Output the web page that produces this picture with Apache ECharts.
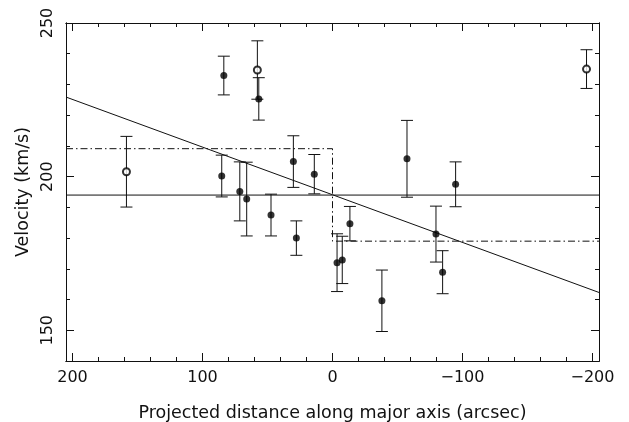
<!DOCTYPE html>
<html>
<head>
<meta charset="utf-8">
<script src="https://cdn.jsdelivr.net/npm/echarts@6/dist/echarts.min.js"></script>
<style>html,body{margin:0;padding:0;background:#fff}#c{width:629px;height:422px}</style>
</head>
<body>
<div id="c"></div>
<script>
// Filled points (x in arcsec, velocity km/s, error)
var filledX = [83.6, 56.7, 85.2, 71.3, 66.0, 47.3, 30.1, 27.8, 14.0, -3.5, -7.5, -13.4, -38.0, -57.3, -79.6, -84.7, -94.7];
var filledV = [232.9, 225.3, 200.2, 195.2, 192.7, 187.5, 204.9, 180.0, 200.8, 172.0, 172.9, 184.7, 159.6, 205.8, 181.3, 168.9, 197.5];
var filledE = [6.3, 6.9, 6.8, 9.6, 12.0, 6.8, 8.4, 5.6, 6.4, 9.4, 7.7, 5.6, 10.0, 12.5, 9.1, 7.0, 7.3];
// Open points
var openX = [158.5, 57.8, -195.4];
var openV = [201.6, 234.7, 235.0];
var openE = [11.5, 9.5, 6.3];
// Lines
var meanLine = [[205, 194.0], [-205, 194.0]];
var fitLine = [[205, 225.9], [-205, 162.3]];
var stepLine = [[205, 209.1], [0, 209.1], [0, 179.0], [-205, 179.0]];
// Axes
var xRange = [-205, 205];
var yRange = [140, 250];
var xMajor = [-200, -100, 0, 100, 200];
var xMinor = [-200, -180, -160, -140, -120, -100, -80, -60, -40, -20, 0, 20, 40, 60, 80, 100, 120, 140, 160, 180, 200];
var yMajor = [150, 200, 250];
var yMinor = [140, 150, 160, 170, 180, 190, 200, 210, 220, 230, 240, 250];

var font = 'DejaVu Sans';
var ink = '#111';

function pts(xs, vs, es) {
  return xs.map(function (x, i) { return [x, vs[i], es[i]]; });
}
var filled = pts(filledX, filledV, filledE);
var open = pts(openX, openV, openE);
var allPts = filled.concat(open);

function fmt(v) { return v < 0 ? '\u2212' + (-v) : String(v); }

var gridRect = {left: 66, right: 30, top: 23, bottom: 61, containLabel: false, outerBoundsMode: 'none'};

function xAx(grid, pos, vals, len, labels) {
  return {
    type: 'value', gridIndex: grid, position: pos, min: xRange[0], max: xRange[1], inverse: true,
    axisLine: {show: true, onZero: false, lineStyle: {color: ink, width: 1}},
    axisTick: {show: true, inside: true, length: len, customValues: vals, lineStyle: {color: ink, width: 1}},
    axisLabel: {show: labels, customValues: vals, formatter: fmt, margin: 9, fontFamily: font, fontSize: 16, color: ink},
    splitLine: {show: false},
    name: labels ? 'Projected distance along major axis (arcsec)' : '',
    nameLocation: 'middle', nameGap: 43,
    nameTextStyle: {fontFamily: font, fontSize: 17.5, color: ink}
  };
}
function yAx(grid, pos, vals, len, labels) {
  return {
    type: 'value', gridIndex: grid, position: pos, min: yRange[0], max: yRange[1],
    axisLine: {show: true, onZero: false, lineStyle: {color: ink, width: 1}},
    axisTick: {show: true, inside: true, length: len, customValues: vals, lineStyle: {color: ink, width: 1}},
    axisLabel: {show: labels, customValues: vals, rotate: 90, margin: 10, fontFamily: font, fontSize: 16, color: ink},
    splitLine: {show: false},
    name: labels ? 'Velocity (km/s)' : '',
    nameLocation: 'middle', nameGap: 28, nameRotate: 90,
    nameTextStyle: {fontFamily: font, fontSize: 17.5, color: ink}
  };
}

function errRender(params, api) {
  var x = api.value(0), y = api.value(1), e = api.value(2);
  var t = api.coord([x, y + e]);
  var b = api.coord([x, y - e]);
  var w = 6;
  var st = {stroke: ink, lineWidth: 1};
  return {
    type: 'group',
    children: [
      {type: 'line', shape: {x1: t[0], y1: t[1], x2: b[0], y2: b[1]}, style: st},
      {type: 'line', shape: {x1: t[0] - w, y1: t[1], x2: t[0] + w, y2: t[1]}, style: st},
      {type: 'line', shape: {x1: b[0] - w, y1: b[1], x2: b[0] + w, y2: b[1]}, style: st}
    ]
  };
}

var chart = echarts.init(document.getElementById('c'), null, {renderer: 'canvas'});
chart.setOption({
  animation: false,
  backgroundColor: '#fff',
  grid: [Object.assign({}, gridRect), Object.assign({}, gridRect)],
  xAxis: [
    xAx(0, 'bottom', xMajor, 8, true),
    xAx(0, 'top', xMajor, 8, false),
    xAx(1, 'bottom', xMinor, 4, false),
    xAx(1, 'top', xMinor, 4, false)
  ],
  yAxis: [
    yAx(0, 'left', yMajor, 8, true),
    yAx(0, 'right', yMajor, 8, false),
    yAx(1, 'left', yMinor, 4, false),
    yAx(1, 'right', yMinor, 4, false)
  ],
  series: [
    {type: 'line', xAxisIndex: 0, yAxisIndex: 0, data: meanLine, symbol: 'none', lineStyle: {color: ink, width: 1}},
    {type: 'line', xAxisIndex: 0, yAxisIndex: 0, data: fitLine, symbol: 'none', lineStyle: {color: ink, width: 1}},
    {type: 'line', xAxisIndex: 0, yAxisIndex: 0, data: stepLine, symbol: 'none', lineStyle: {color: ink, width: 1, type: [7, 3, 1.5, 3]}},
    {type: 'custom', xAxisIndex: 0, yAxisIndex: 0, data: allPts, renderItem: errRender, z: 3},
    {type: 'scatter', xAxisIndex: 0, yAxisIndex: 0, data: filled, symbol: 'circle', symbolSize: 7, itemStyle: {color: '#000'}, z: 4},
    {type: 'scatter', xAxisIndex: 0, yAxisIndex: 0, data: open, symbol: 'emptyCircle', symbolSize: 7, itemStyle: {color: '#000', borderColor: '#000', borderWidth: 1}, z: 4}
  ]
});
</script>
</body>
</html>
